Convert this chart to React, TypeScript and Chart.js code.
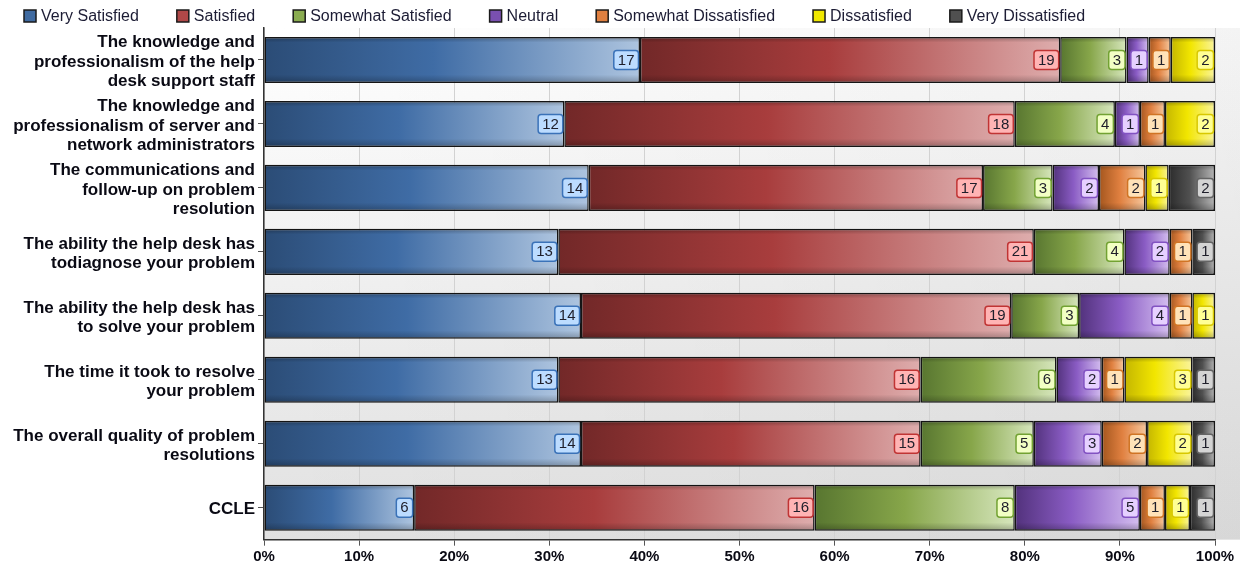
import { useEffect, useRef } from "react";
import { Chart, registerables } from "chart.js";

Chart.register(...registerables);

// Survey questions (y-axis categories), split into display lines
const categories: string[][] = [
  ["The knowledge and", "professionalism of the help", "desk support staff"],
  ["The knowledge and", "professionalism of server and", "network administrators"],
  ["The communications and", "follow-up on problem", "resolution"],
  ["The ability the help desk has", "todiagnose your problem"],
  ["The ability the help desk has", "to solve your problem"],
  ["The time it took to resolve", "your problem"],
  ["The overall quality of problem", "resolutions"],
  ["CCLE"],
];

const seriesNames = [
  "Very Satisfied",
  "Satisfied",
  "Somewhat Satisfied",
  "Neutral",
  "Somewhat Dissatisfied",
  "Dissatisfied",
  "Very Dissatisfied",
];

// Response counts per question
const verySatisfied = [17, 12, 14, 13, 14, 13, 14, 6];
const satisfied = [19, 18, 17, 21, 19, 16, 15, 16];
const somewhatSatisfied = [3, 4, 3, 4, 3, 6, 5, 8];
const neutral = [1, 1, 2, 2, 4, 2, 3, 5];
const somewhatDissatisfied = [1, 1, 2, 1, 1, 1, 2, 1];
const dissatisfied = [2, 2, 1, 0, 1, 3, 2, 1];
const veryDissatisfied = [0, 0, 2, 1, 0, 1, 1, 1];

const xTickValues = [0, 10, 20, 30, 40, 50, 60, 70, 80, 90, 100];

// Per-series palette: gradient stops (dark, base, light), legend swatch, label box
const palette = [
  { dark: "#2b4c76", base: "#3f6ca5", light: "#adc4df", swatch: "#3f6aa0", boxFill: "#bcdcff", boxLine: "#3a72b8" },
  { dark: "#722828", base: "#a83d3d", light: "#deadad", swatch: "#b04848", boxFill: "#ffb4b4", boxLine: "#c03434" },
  { dark: "#587630", base: "#87a64a", light: "#d6e6bc", swatch: "#8aac50", boxFill: "#f2ffc4", boxLine: "#72a232" },
  { dark: "#52327c", base: "#8a5cc4", light: "#d4bef0", swatch: "#7a50b0", boxFill: "#e6d0ff", boxLine: "#8252c2" },
  { dark: "#a4561e", base: "#e08040", light: "#f6c89e", swatch: "#e08040", boxFill: "#ffe2b8", boxLine: "#d07424" },
  { dark: "#c4b600", base: "#f2e600", light: "#faf49c", swatch: "#f0e800", boxFill: "#ffff94", boxLine: "#d8c800" },
  { dark: "#2c2c2c", base: "#505050", light: "#b6b6b6", swatch: "#505050", boxFill: "#d4d4d4", boxLine: "#646464" },
];

const FONT = "'Liberation Sans', Arial, sans-serif";

export default function App() {
  const canvasRef = useRef<HTMLCanvasElement | null>(null);

  useEffect(() => {
    document.body.style.margin = "0";
    const canvas = canvasRef.current;
    if (!canvas) return;

    const counts = [
      verySatisfied,
      satisfied,
      somewhatSatisfied,
      neutral,
      somewhatDissatisfied,
      dissatisfied,
      veryDissatisfied,
    ];
    const totals = categories.map((_, j) => counts.reduce((s, arr) => s + arr[j], 0));
    const percents = counts.map((arr) => arr.map((v, j) => (v / totals[j]) * 100));

    const segmentFill = (si: number) => (ctx: any) => {
      const chart = ctx.chart;
      const p = palette[si];
      if (ctx.type !== "data" || !chart.chartArea || !chart.scales.x) return p.base;
      const j = ctx.dataIndex;
      let start = 0;
      for (let k = 0; k < si; k++) start += percents[k][j];
      const end = start + percents[si][j];
      const x0 = chart.scales.x.getPixelForValue(start);
      const x1 = chart.scales.x.getPixelForValue(end);
      if (!isFinite(x0) || !isFinite(x1) || x1 - x0 < 1) return p.base;
      const g = chart.ctx.createLinearGradient(x0, 0, x1, 0);
      g.addColorStop(0, p.dark);
      g.addColorStop(0.45, p.base);
      g.addColorStop(1, p.light);
      return g;
    };

    const datasets = seriesNames.map((name, si) => ({
      label: name,
      data: percents[si],
      backgroundColor: segmentFill(si),
      borderColor: "#151515",
      borderWidth: 1.5,
      borderSkipped: false as const,
      categoryPercentage: 1,
      barPercentage: 0.72,
    }));

    const plotBackground = {
      id: "plotBackground",
      beforeDraw(chart: any) {
        const { ctx, chartArea } = chart;
        const right = chart.width;
        ctx.save();
        const g = ctx.createLinearGradient(0, chartArea.top, 0, chartArea.bottom);
        g.addColorStop(0, "#ffffff");
        g.addColorStop(1, "#e1e1e1");
        ctx.fillStyle = g;
        ctx.fillRect(chartArea.left, chartArea.top, right - chartArea.left, chartArea.bottom - chartArea.top);
        const h = ctx.createLinearGradient(chartArea.left, 0, right, 0);
        h.addColorStop(0, "rgba(0,0,0,0)");
        h.addColorStop(1, "rgba(0,0,0,0.045)");
        ctx.fillStyle = h;
        ctx.fillRect(chartArea.left, chartArea.top, right - chartArea.left, chartArea.bottom - chartArea.top);
        ctx.restore();
      },
    };

    const barDecor = {
      id: "barDecor",
      afterDatasetsDraw(chart: any) {
        const { ctx } = chart;
        ctx.save();
        // bevel shading along top and bottom edges of each segment
        chart.data.datasets.forEach((_: any, si: number) => {
          const meta = chart.getDatasetMeta(si);
          meta.data.forEach((el: any, j: number) => {
            if (counts[si][j] <= 0) return;
            const left = Math.min(el.base, el.x);
            const w = Math.abs(el.x - el.base);
            const top = el.y - el.height / 2;
            const g = ctx.createLinearGradient(0, top, 0, top + el.height);
            g.addColorStop(0, "rgba(0,0,0,0.28)");
            g.addColorStop(0.12, "rgba(0,0,0,0)");
            g.addColorStop(0.82, "rgba(0,0,0,0)");
            g.addColorStop(1, "rgba(0,0,0,0.25)");
            ctx.fillStyle = g;
            ctx.fillRect(left + 1, top + 1, w - 2, el.height - 2);
          });
        });
        // value labels at the right end of each segment
        ctx.font = `15px ${FONT}`;
        ctx.textAlign = "center";
        ctx.textBaseline = "middle";
        chart.data.datasets.forEach((_: any, si: number) => {
          const meta = chart.getDatasetMeta(si);
          const p = palette[si];
          meta.data.forEach((el: any, j: number) => {
            const v = counts[si][j];
            if (v <= 0) return;
            const text = String(v);
            const tw = ctx.measureText(text).width;
            const bw = tw + 8;
            const bh = 19;
            const right = el.x - 1.5;
            const bx = right - bw;
            const by = el.y - bh / 2;
            ctx.beginPath();
            ctx.roundRect(bx, by, bw, bh, 3);
            ctx.fillStyle = p.boxFill;
            ctx.fill();
            ctx.lineWidth = 1.5;
            ctx.strokeStyle = p.boxLine;
            ctx.stroke();
            ctx.fillStyle = "#1e1e2a";
            ctx.fillText(text, bx + bw / 2, el.y + 0.5);
          });
        });
        ctx.restore();
      },
    };

    const topLegend = {
      id: "topLegend",
      afterDraw(chart: any) {
        const { ctx } = chart;
        ctx.save();
        ctx.font = `16px ${FONT}`;
        ctx.textBaseline = "middle";
        ctx.textAlign = "left";
        let x = 24;
        seriesNames.forEach((name, si) => {
          ctx.fillStyle = palette[si].swatch;
          ctx.fillRect(x, 10, 12, 12);
          ctx.lineWidth = 1.5;
          ctx.strokeStyle = "#1a1a1a";
          ctx.strokeRect(x, 10, 12, 12);
          ctx.fillStyle = "#1c1c34";
          ctx.fillText(name, x + 17, 16.5);
          x += 17 + ctx.measureText(name).width + 38;
        });
        ctx.restore();
      },
    };

    const chart = new Chart(canvas, {
      type: "bar",
      data: { labels: categories, datasets },
      options: {
        indexAxis: "y",
        responsive: false,
        animation: false,
        layout: { padding: { top: 28, right: 25, left: 0, bottom: 0 } },
        plugins: {
          legend: { display: false },
          tooltip: { enabled: false },
        },
        scales: {
          x: {
            stacked: true,
            min: 0,
            max: 100,
            afterBuildTicks(scale: any) {
              scale.ticks = xTickValues.map((v) => ({ value: v }));
            },
            afterFit(scale: any) {
              scale.height = 31;
            },
            ticks: {
              callback: (v: any) => `${v}%`,
              color: "#0a0a14",
              font: { family: FONT, size: 15, weight: "bold" },
              padding: 2,
              maxRotation: 0,
            },
            grid: {
              color: "#d2d2d2",
              lineWidth: 1,
              tickLength: 6,
              tickColor: "#555555",
            },
            border: { color: "#333333", width: 1.5 },
          },
          y: {
            stacked: true,
            afterFit(scale: any) {
              scale.width = 264;
            },
            ticks: {
              color: "#0a0a14",
              font: { family: FONT, size: 17, weight: "bold", lineHeight: 1.15 },
              padding: 3,
              labelOffset: 2,
              autoSkip: false,
            },
            grid: {
              offset: false,
              drawOnChartArea: false,
              tickLength: 6,
              tickColor: "#555555",
            },
            border: { color: "#333333", width: 1.5 },
          },
        },
      },
      plugins: [plotBackground, barDecor, topLegend],
    });

    return () => chart.destroy();
  }, []);

  return (
    <div style={{ width: 1240, height: 572, background: "#ffffff" }}>
      <canvas ref={canvasRef} width={1240} height={572} style={{ display: "block" }} />
    </div>
  );
}
